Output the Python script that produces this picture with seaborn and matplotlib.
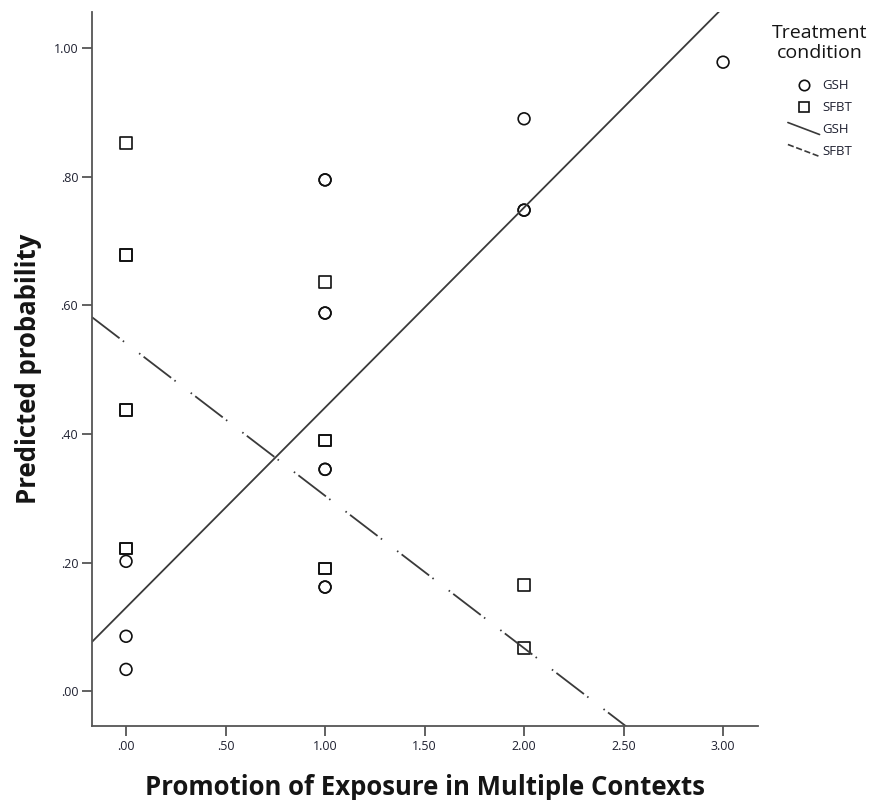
import numpy as np
import pandas as pd
import matplotlib
matplotlib.use("Agg")
import matplotlib.pyplot as plt
import seaborn as sns
from matplotlib.lines import Line2D
from matplotlib.legend_handler import HandlerBase
from matplotlib.ticker import FuncFormatter

# Predicted probabilities per participant (repeated values overlap in the plot)
gsh_exposure = [0, 0, 0, 1, 1, 1, 1, 1, 1, 1, 1, 2, 2, 2, 3]
gsh_prob = [0.202, 0.0855, 0.034, 0.795, 0.795, 0.588, 0.588, 0.345, 0.345,
            0.162, 0.162, 0.890, 0.748, 0.748, 0.978]
sfbt_exposure = [0, 0, 0, 0, 0, 0, 0, 1, 1, 1, 1, 1, 2, 2]
sfbt_prob = [0.852, 0.678, 0.678, 0.437, 0.437, 0.222, 0.222, 0.636,
             0.390, 0.390, 0.191, 0.191, 0.165, 0.067]

# Linear fit lines per condition: intercept, slope
fit_conditions = ["GSH", "SFBT"]
fit_intercepts = [0.130, 0.541]
fit_slopes = [0.311, -0.237]

x_ticks = [0.0, 0.5, 1.0, 1.5, 2.0, 2.5, 3.0]
y_ticks = [0.0, 0.2, 0.4, 0.6, 0.8, 1.0]

sns.set_theme(style="white")
plt.rcParams["font.family"] = ["Open Sans", "DejaVu Sans"]

points = pd.DataFrame({
    "exposure": gsh_exposure + sfbt_exposure,
    "prob": gsh_prob + sfbt_prob,
    "condition": ["GSH"] * len(gsh_exposure) + ["SFBT"] * len(sfbt_exposure),
})

fig = plt.figure(figsize=(8.73, 8.0), dpi=100)
ax = fig.add_axes([0.1054, 0.0925, 0.763, 0.8925])

xlim = (-0.171, 3.176)
ylim = (-0.054, 1.056)

line_color = "#3a3a3a"
# dash, gap, dot, gap, dot, gap
dash_dot = (0, (19.2, 2.3, 0.85, 10.5, 0.85, 2.3))
for cond, b0, b1 in zip(fit_conditions, fit_intercepts, fit_slopes):
    xs = np.array(xlim)
    fit = pd.DataFrame({"exposure": xs, "prob": b0 + b1 * xs})
    ls = "-" if cond == "GSH" else dash_dot
    sns.lineplot(data=fit, x="exposure", y="prob", ax=ax, color=line_color,
                 lw=1.3, linestyle=ls, legend=False)

sns.scatterplot(data=points, x="exposure", y="prob", style="condition",
                markers={"GSH": "o", "SFBT": "s"}, s=72, facecolor="none",
                edgecolor="#111111", linewidth=1.2, ax=ax, legend=False)

ax.set_xlim(*xlim)
ax.set_ylim(*ylim)
ax.set_xticks(x_ticks)
ax.set_yticks(y_ticks)

def strip_zero(v, pos):
    s = f"{v:.2f}"
    return s[1:] if s.startswith("0") else s

ax.xaxis.set_major_formatter(FuncFormatter(strip_zero))
ax.yaxis.set_major_formatter(FuncFormatter(strip_zero))

for side in ["top", "right"]:
    ax.spines[side].set_visible(False)
for side in ["left", "bottom"]:
    ax.spines[side].set_color("#555555")
    ax.spines[side].set_linewidth(1.3)

ax.tick_params(axis="both", which="major", direction="out", length=7, width=1.3,
               color="#555555", labelsize=9, labelcolor="#1e2030", pad=3,
               bottom=True, left=True)

ax.set_xlabel("Promotion of Exposure in Multiple Contexts", fontsize=18.5,
              fontweight="bold", color="#151515", labelpad=15)
ax.set_ylabel("Predicted probability", fontsize=18.5, fontweight="bold",
              color="#151515", labelpad=8)


class SlantedLine(HandlerBase):
    def create_artists(self, legend, orig, xdescent, ydescent, width, height,
                       fontsize, trans):
        ln = Line2D([-xdescent, width - xdescent],
                    [height - ydescent + 1, -ydescent - 1],
                    color=orig.get_color(), lw=orig.get_linewidth(),
                    linestyle=orig.get_linestyle(), transform=trans)
        return [ln]


handles = [
    Line2D([], [], marker="o", ls="none", mfc="none", mec="#111111", ms=7.5, mew=1.2),
    Line2D([], [], marker="s", ls="none", mfc="none", mec="#111111", ms=7.5, mew=1.2),
    Line2D([], [], color=line_color, lw=1.2, ls="-"),
    Line2D([], [], color=line_color, lw=1.2, ls=(0, (14, 2, 1.2, 3))),
]
labels = ["GSH", "SFBT", "GSH", "SFBT"]
leg = fig.legend(handles, labels, title="Treatment\ncondition",
                 loc="upper left", bbox_to_anchor=(0.874, 0.981),
                 frameon=False, fontsize=9.5, title_fontsize=14,
                 handlelength=2.4, handletextpad=0.2, labelspacing=0.68,
                 borderpad=0.2,
                 handler_map={handles[2]: SlantedLine(), handles[3]: SlantedLine()})
leg.get_title().set_multialignment("center")
leg.get_title().set_color("#151515")
leg.get_title().set_linespacing(1.1)
# extra room between the legend title and its entries
leg._legend_box.sep = 12.5
for t in leg.get_texts():
    t.set_color("#1e2030")

fig.savefig("out.png", dpi=100)
